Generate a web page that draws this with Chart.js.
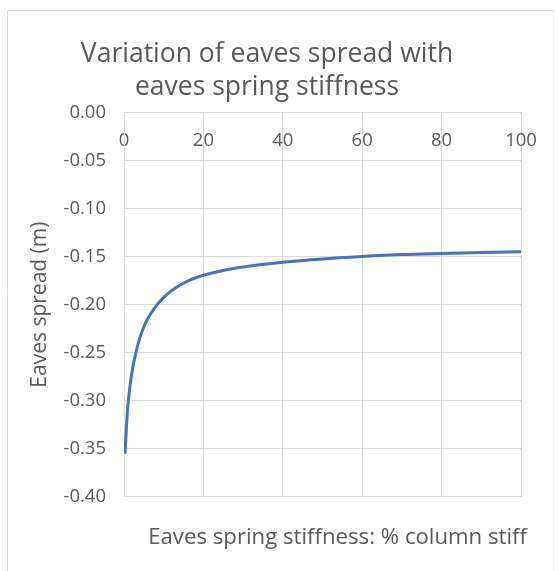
<!DOCTYPE html>
<html>
<head>
<meta charset="utf-8">
<script src="https://cdn.jsdelivr.net/npm/chart.js@4.4.1/dist/chart.umd.min.js"></script>
<style>
  html, body { margin: 0; padding: 0; background: #ffffff; }
  #wrap { position: relative; width: 558px; height: 571px; }
</style>
</head>
<body>
<div id="wrap"><canvas id="c" width="558" height="571"></canvas></div>
<script>
// ---- data ----
const stiffness = [0.25, 0.6, 1, 1.5, 2, 2.5, 3.5, 4.5, 6, 8, 10, 13, 16, 20, 25, 30, 40, 50, 60, 70, 80, 90, 100];
const spread = [-0.355, -0.328, -0.304, -0.285, -0.2705, -0.259, -0.2415, -0.2285, -0.2145, -0.202, -0.1925, -0.1825, -0.1755, -0.1695, -0.1645, -0.161, -0.156, -0.1525, -0.150, -0.148, -0.1468, -0.1458, -0.145];
const chartTitle = ['Variation of eaves spread with', 'eaves spring stiffness'];
const xTitle = 'Eaves spring stiffness: % column stiff';
const yTitle = 'Eaves spread (m)';
const xTicks = [0, 20, 40, 60, 80, 100];
const yTicks = [0, -0.05, -0.10, -0.15, -0.20, -0.25, -0.30, -0.35, -0.40];

const TEXT = '#595959';
const GRID = '#d9d9d9';
const FONT = "'Open Sans', 'Noto Sans', sans-serif";

const frame = {
  id: 'frame',
  beforeDraw(chart) {
    const ctx = chart.ctx;
    ctx.save();
    ctx.fillStyle = '#ffffff';
    ctx.fillRect(0, 0, chart.width, chart.height);
    ctx.strokeStyle = GRID;
    ctx.lineWidth = 1;
    ctx.beginPath();
    ctx.moveTo(7.5, chart.height);
    ctx.lineTo(7.5, 10.5);
    ctx.lineTo(553.5, 10.5);
    ctx.stroke();
    ctx.strokeStyle = '#f0f0f0';
    ctx.beginPath();
    ctx.moveTo(553.5, 10.5);
    ctx.lineTo(553.5, chart.height);
    ctx.stroke();
    ctx.restore();
  }
};

new Chart(document.getElementById('c'), {
  type: 'line',
  data: {
    datasets: [{
      data: stiffness.map((x, i) => ({ x: x, y: spread[i] })),
      borderColor: '#4472C4',
      borderWidth: 3,
      pointRadius: 0,
      fill: false,
      cubicInterpolationMode: 'monotone'
    }]
  },
  options: {
    responsive: false,
    animation: false,
    devicePixelRatio: 1,
    layout: { padding: { left: 7, right: 31, top: 0, bottom: 0 } },
    plugins: {
      legend: { display: false },
      tooltip: { enabled: false },
      title: {
        display: true,
        text: chartTitle,
        color: TEXT,
        font: { family: FONT, size: 26.5, weight: 'normal', lineHeight: 1.25 },
        padding: { top: 37.5, bottom: 0 }
      },
      subtitle: {
        display: true,
        position: 'bottom',
        align: 'end',
        text: xTitle,
        color: TEXT,
        font: { family: FONT, size: 22.2, weight: 'normal', lineHeight: 1.2 },
        padding: { top: 27.7, bottom: 19.7 }
      }
    },
    scales: {
      x: {
        type: 'linear',
        position: 'top',
        min: 0, max: 100,
        afterBuildTicks: s => { s.ticks = xTicks.map(v => ({ value: v })); },
        afterFit: s => { s.height = 8.5; },
        grid: { color: GRID, lineWidth: 1, drawTicks: false },
        border: { color: GRID, width: 1 },
        ticks: { mirror: true, padding: 17, color: TEXT, font: { family: FONT, size: 18.5 }, maxRotation: 0 }
      },
      y: {
        type: 'linear',
        position: 'left',
        min: -0.4, max: 0,
        afterBuildTicks: s => { s.ticks = yTicks.map(v => ({ value: v })); },
        afterFit: s => { s.width = 117; },
        grid: { color: GRID, lineWidth: 1, drawTicks: false },
        border: { color: GRID, width: 1 },
        ticks: { padding: 18, color: TEXT, font: { family: FONT, size: 18.5 }, callback: v => Number(v).toFixed(2) },
        title: { display: true, text: yTitle, color: TEXT, font: { family: FONT, size: 21, weight: 'normal', lineHeight: 1.2 }, padding: { top: 20, bottom: 0 } }
      },
      y2: {
        type: 'linear',
        position: 'right',
        display: true,
        afterFit: s => { s.width = 6; },
        grid: { display: false, drawTicks: false },
        border: { display: false },
        ticks: { display: false }
      }
    }
  },
  plugins: [frame]
});
</script>
</body>
</html>
